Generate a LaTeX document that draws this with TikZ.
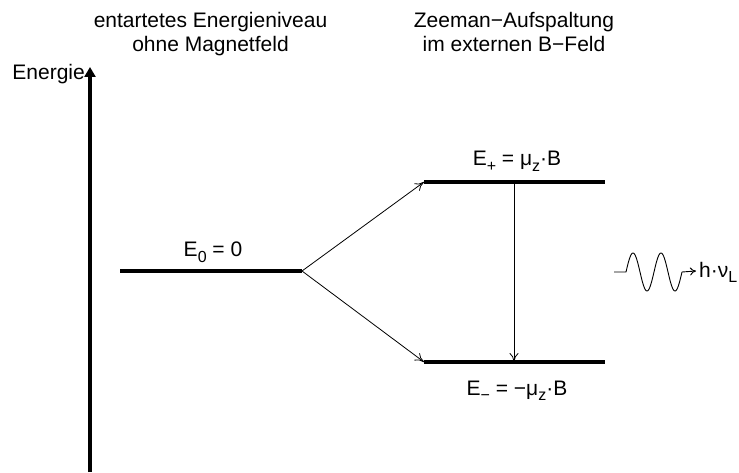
\documentclass[tikz,border=0pt]{standalone}
\usepackage{fontspec}
\setmainfont{Liberation Sans}
\usetikzlibrary{arrows.meta}
\newcommand{\sbs}[1]{\raisebox{-5.5pt}{\fontsize{16}{16}\selectfont #1}}
\begin{document}
\begin{tikzpicture}[x=1pt,y=1pt,
  lbl/.style={font=\fontsize{21}{24}\selectfont, inner sep=0pt},
  level/.style={line width=4pt},
  thin/.style={line width=0.8pt, -{To[length=9pt,width=9pt]}},
]
\useasboundingbox (0,0) rectangle (739,472);
% axis
\coordinate (axb) at (90,0);
\coordinate (axt) at (90,405);
\draw[line width=4pt, -{Triangle[length=10pt,width=11pt]}] (axb) -- (axt);
\node[lbl, anchor=base east] (en) at (85,392) {Energie};
% titles
\node[lbl, anchor=base] (t1a) at (210.5,444) {entartetes Energieniveau};
\node[lbl, anchor=base] (t1b) at (210.5,420) {ohne Magnetfeld};
\node[lbl, anchor=base] (t2a) at (514,444) {Zeeman\textminus Aufspaltung};
\node[lbl, anchor=base] (t2b) at (514,420) {im externen B\textminus Feld};
% levels
\coordinate (e0a) at (120,201);
\coordinate (e0b) at (302,201);
\coordinate (epa) at (424,290);
\coordinate (epb) at (605,290);
\coordinate (ema) at (424,110);
\coordinate (emb) at (605,110);
\coordinate (epm) at (514,290);
\coordinate (emm) at (514,110);
\draw[level] (e0a) -- (e0b);
\draw[level] (epa) -- (epb);
\draw[level] (ema) -- (emb);
\node[lbl, anchor=base] (l0) at (213,215) {E\sbs{0} = 0};
\node[lbl, anchor=base] (lp) at (517,306) {E\sbs{+} = μ\sbs{z}·B};
\node[lbl, anchor=base] (lm) at (517,77) {E\sbs{\textminus} = \textminus μ\sbs{z}·B};
% arrows
\draw[thin] (e0b) -- (epa);
\draw[thin] (e0b) -- (ema);
\draw[thin] (epm) -- (emm);
% wave
\coordinate (w0) at (614,200);
\coordinate (w1) at (626,200);
\coordinate (w2) at (682,200);
\coordinate (w3) at (696,201);
\draw[line width=0.9pt] (w0) -- (w1)
  -- plot[domain=0:56, samples=80, smooth] ({626+\x},{200+19*sin(\x*12.857)})
  -- (w2);
\draw[line width=0.9pt, -{To[length=6pt,width=8pt]}] (w2) -- (w3);
\node[lbl, anchor=base west] (hv) at (699,195) {h·ν\sbs{L}};
\end{tikzpicture}
\end{document}
